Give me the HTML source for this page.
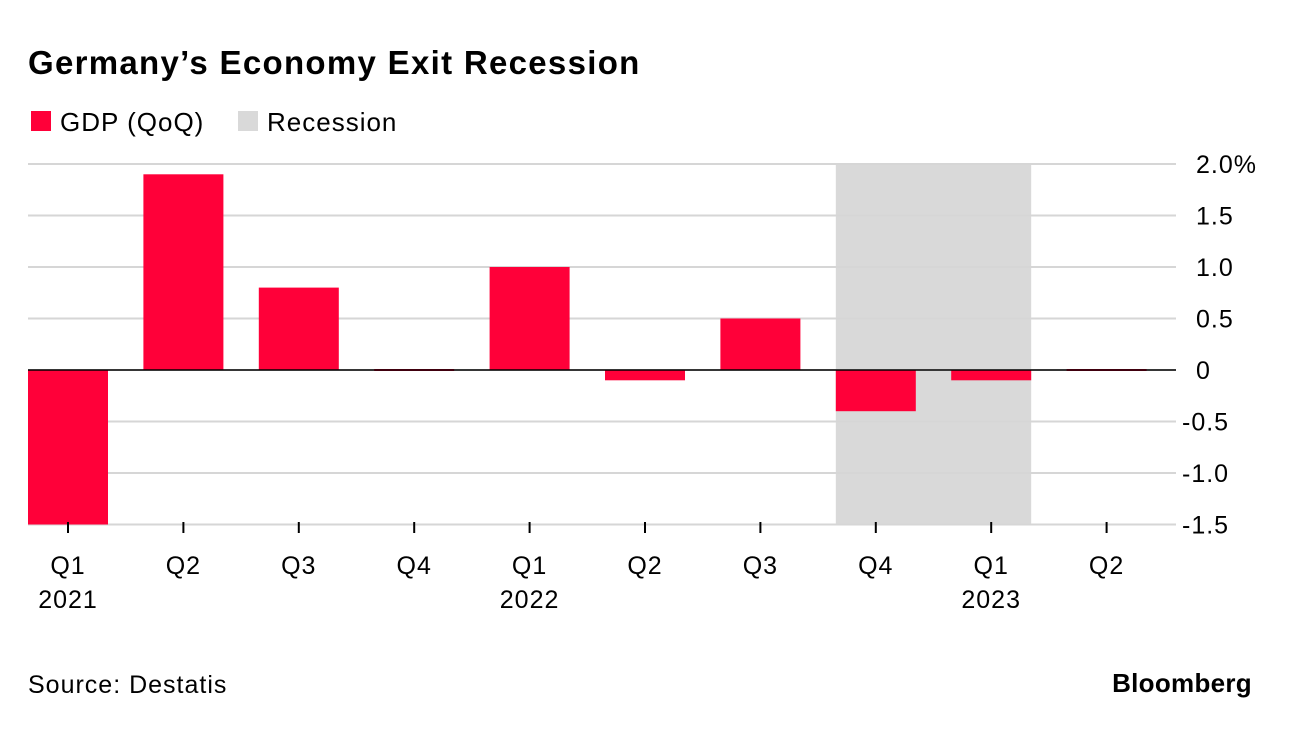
<!DOCTYPE html>
<html><head><meta charset="utf-8"><style>
body{margin:0;background:#fff;font-family:"Liberation Sans",sans-serif;}
svg text{font-family:"Liberation Sans",sans-serif;}
</style></head><body>
<svg id="chart" width="1292" height="726" xmlns="http://www.w3.org/2000/svg">
<text x="28" y="74" font-size="33" font-weight="bold" letter-spacing="1.3" fill="#000">Germany’s Economy Exit Recession</text>
<g>
<rect x="31" y="111" width="20" height="20" fill="#ff0039"/>
<text x="60" y="131" font-size="26" letter-spacing="1" fill="#000">GDP (QoQ)</text>
<rect x="238" y="111" width="20" height="20" fill="#d9d9d9"/>
<text x="267" y="131" font-size="26" letter-spacing="1" fill="#000">Recession</text>
</g>
<g id="plot"></g>
<text x="28" y="693" font-size="25" letter-spacing="1" fill="#000">Source: Destatis</text>
<text x="1252" y="692" font-size="26" font-weight="bold" letter-spacing="0.3" fill="#000" text-anchor="end">Bloomberg</text>
</svg>
<script>
const quarters=["Q1","Q2","Q3","Q4","Q1","Q2","Q3","Q4","Q1","Q2"];
const years=["2021","","","","2022","","","","2023",""];
const gdp=[-1.5,1.9,0.8,0.0,1.0,-0.1,0.5,-0.4,-0.1,0.0];
const yTicks=[2.0,1.5,1.0,0.5,0,-0.5,-1.0,-1.5];
const yTickLabels=["2.0%","1.5","1.0","0.5","0","0.5","1.0","1.5"];
const recessionStart=7, recessionEnd=8;
const ns="http://www.w3.org/2000/svg";
const g=document.getElementById('plot');
function y(v){return 370-v*103;}
const step=115.4,x0=28,bw=80;
function xs(i){return x0+i*step;}
function mk(t,a){const e=document.createElementNS(ns,t);for(const k in a)e.setAttribute(k,a[k]);g.appendChild(e);return e;}
let r=mk('rect',{x:xs(recessionStart),y:y(2.0),width:xs(recessionEnd)+bw-xs(recessionStart),height:y(-1.5)-y(2.0),fill:'#d9d9d9'});


yTicks.forEach((v,i)=>{
 let l=mk('line',{x1:28,x2:1176,y1:y(v),y2:y(v),stroke:'#d6d6d6','stroke-width':2});
 
 
 let t=mk('text',{x:1196,y:y(v)+9,'font-size':25,'letter-spacing':1,fill:'#000'});
 t.textContent=(v<0?'-':'')+yTickLabels[i];
 if(v<0)t.setAttribute('x',1182);
 
 
});
gdp.forEach((v,i)=>{
 const h=Math.max(Math.abs(y(v)-y(0)),2);
 let b=mk('rect',{x:xs(i),y:v>=0?y(v)-(v==0?1:0):y(0),width:bw,height:h,fill:'#ff0039'});
 
 
 const c=xs(i)+bw/2;
 let tk=mk('line',{x1:c,x2:c,y1:522,y2:533,stroke:'#000','stroke-width':2});
 
 
 let q=mk('text',{x:c,y:574,'font-size':25,'letter-spacing':1,'text-anchor':'middle',fill:'#000'});
 q.textContent=quarters[i];
 
 
 if(years[i]){
  let yr=mk('text',{x:c,y:608,'font-size':25,'letter-spacing':1,'text-anchor':'middle',fill:'#000'});
  yr.textContent=years[i];
  
  
 }
});
let z=mk('line',{x1:28,x2:1176,y1:y(0),y2:y(0),stroke:'#000','stroke-width':1.5});


</script>
</body></html>
